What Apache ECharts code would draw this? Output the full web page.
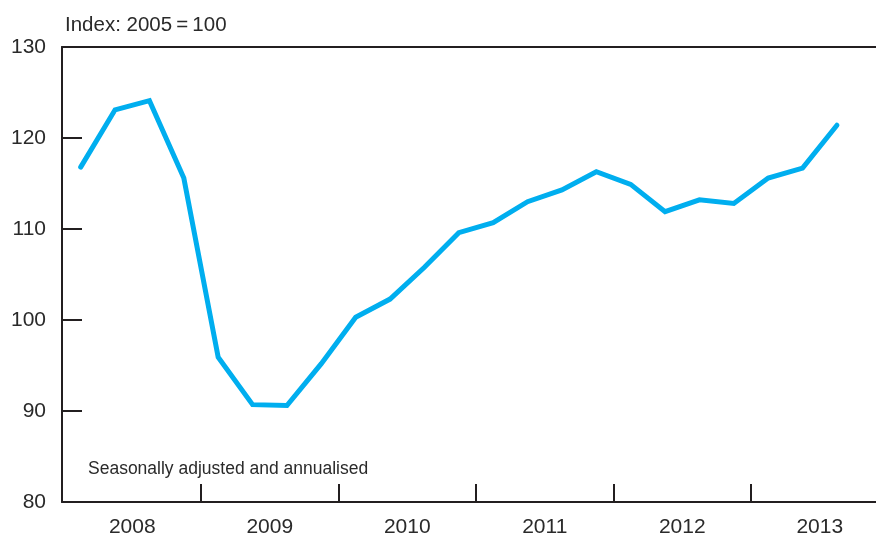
<!DOCTYPE html>
<html>
<head>
<meta charset="utf-8">
<script src="https://cdn.jsdelivr.net/npm/echarts@6/dist/echarts.min.js"></script>
<style>html,body{margin:0;padding:0;background:#fff}#c{width:876px;height:538px}</style>
</head>
<body>
<div id="c"></div>
<script>
// Quarterly index values, 2008 Q1 .. 2013 Q3
const years = ['2008', '2009', '2010', '2011', '2012', '2013'];
const values = [116.8, 123.1, 124.1, 115.6,
                95.9, 90.7, 90.6, 95.2,
                100.3, 102.3, 105.8, 109.6,
                110.7, 113.0, 114.3, 116.3,
                114.9, 111.9, 113.2, 112.8,
                115.6, 116.7, 121.4];
const yTicks = [80, 90, 100, 110, 120, 130];
const titleText = 'Index: 2005\u2009=\u2009100';
const noteText = 'Seasonally adjusted and annualised';

const font = "'Liberation Sans', Arial, sans-serif";
const axisColor = '#231f20';
const textColor = '#2a2a2a';

const points = values.map((v, i) => [i + 0.5, v]);
const qPx = 34.375;
const xMin = -1.5 / qPx;
const xMax = xMin + 814 / qPx;

const chart = echarts.init(document.getElementById('c'), null, {renderer: 'canvas'});
chart.setOption({
  animation: false,
  backgroundColor: '#fff',
  grid: {left: 62, right: 0, top: 47, bottom: 36, containLabel: false},
  title: [
    {text: titleText, left: 60, top: 10, textStyle: {fontFamily: font, fontSize: 20.5, fontWeight: 'normal', color: textColor}},
    {text: noteText, left: 83, top: 455, textStyle: {fontFamily: font, fontSize: 17.5, fontWeight: 'normal', color: textColor}}
  ],
  xAxis: [{
    type: 'value', min: xMin, max: xMax,
    axisLine: {show: true, onZero: false, lineStyle: {color: axisColor, width: 2}},
    axisTick: {show: true, inside: true, length: 18, lineStyle: {color: axisColor, width: 2},
      customValues: years.slice(1).map((y, i) => (i + 1) * 4)},
    axisLabel: {show: true, margin: 15, fontFamily: font, fontSize: 21, color: textColor,
      customValues: years.map((y, i) => i * 4 + 2),
      formatter: v => years[Math.round((v - 2) / 4)] || ''},
    splitLine: {show: false}
  }, {
    type: 'value', position: 'top', min: xMin, max: xMax,
    axisLine: {show: true, onZero: false, lineStyle: {color: axisColor, width: 2}},
    axisTick: {show: false}, axisLabel: {show: false}, splitLine: {show: false}
  }],
  yAxis: {
    type: 'value', min: yTicks[0], max: yTicks[yTicks.length - 1], interval: 10,
    axisLine: {show: true, onZero: false, lineStyle: {color: axisColor, width: 2}},
    axisTick: {show: true, inside: true, length: 20, lineStyle: {color: axisColor, width: 2}},
    axisLabel: {margin: 16, fontFamily: font, fontSize: 21, color: textColor},
    splitLine: {show: false}
  },
  series: [{
    type: 'line', data: points, xAxisIndex: 0, showSymbol: false, symbol: 'none',
    lineStyle: {color: '#00aeef', width: 5, cap: 'round', join: 'miter'}
  }]
});
</script>
</body>
</html>
